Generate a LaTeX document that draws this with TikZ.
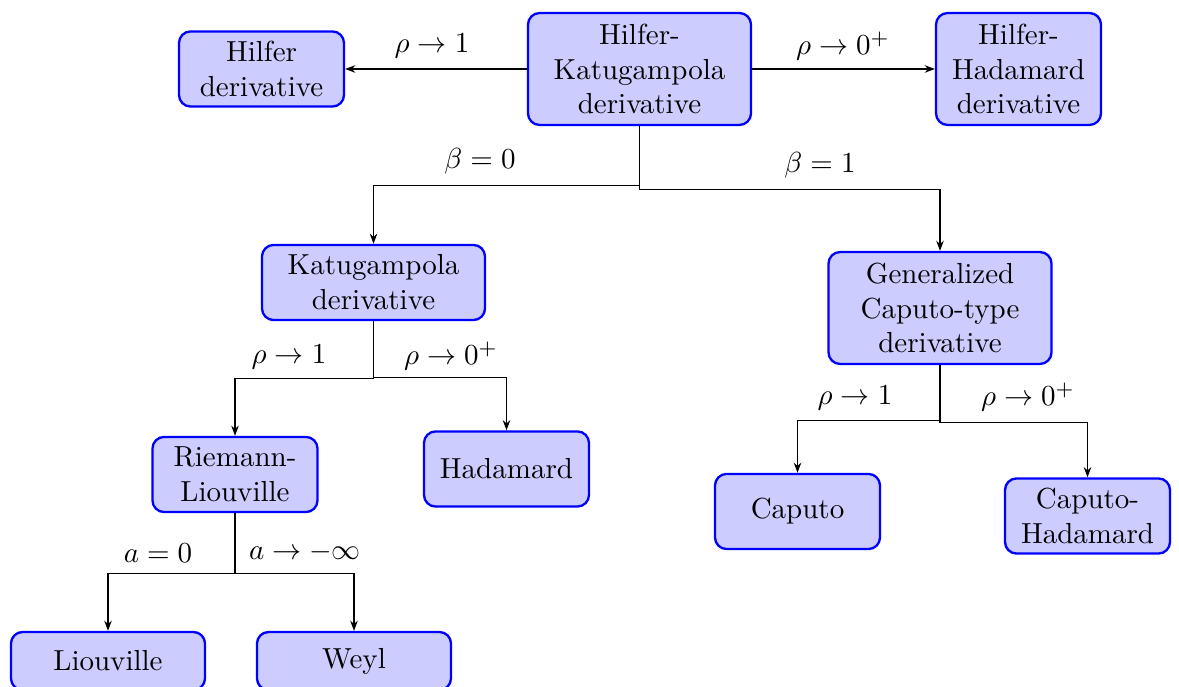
\documentclass[tikz,border=0pt]{standalone}
\usetikzlibrary{arrows.meta}
\begin{document}
\begin{tikzpicture}[x=0.3448pt,y=-0.3448pt,
  box/.style={draw=blue,fill=blue!20,thick,rounded corners=4pt,align=center,inner sep=2pt,minimum height=25.9pt},
  wA/.style={minimum width=56.9pt},
  wB/.style={minimum width=76.9pt},
  wC/.style={minimum width=66.9pt,minimum height=20pt},
  arr/.style={-{Stealth[length=3.5pt,width=2.6pt]},line width=0.4pt},
  lab/.style={inner sep=0pt}]
\useasboundingbox (0,0) rectangle (1179,687);
\node[box,wB,minimum height=38.6pt] (hk) at (639.5,69) {Hilfer-\\Katugampola\\derivative};
\node[box,wA] (hil) at (261.5,69) {Hilfer\\derivative};
\node[box,wA,minimum height=38.6pt] (hh) at (1018.5,69) {Hilfer-\\Hadamard\\derivative};
\node[box,wB] (kat) at (373.5,282.5) {Katugampola\\derivative};
\node[box,wB,minimum height=38.6pt] (gc) at (940,308) {Generalized\\Caputo-type\\derivative};
\node[box,wA] (rl) at (235,474.5) {Riemann-\\Liouville};
\node[box,wA] (had) at (506.5,469) {Hadamard};
\node[box,wA] (cap) at (797.5,511.5) {Caputo};
\node[box,wA] (ch) at (1087.5,516) {Caputo-\\Hadamard};
\node[box,wC] (lio) at (108,661) {Liouville};
\node[box,wC] (wey) at (354,661) {Weyl};

\draw[arr] (hk.west) -- (hil.east);
\draw[arr] (hk.east) -- (hh.west);
\draw[arr] (hk.south) -- ++(0,59) -| (kat.north);
\draw[arr] (hk.south) -- ++(0,63) -| (gc.north);
\draw[arr] (kat.south) -- ++(0,57) -| (rl.north);
\draw[arr] (kat.south) -- ++(0,56) -| (had.north);
\draw[arr] (gc.south) -- ++(0,55) -| (cap.north);
\draw[arr] (gc.south) -- ++(0,57) -| (ch.north);
\draw[arr] (rl.south) -- ++(0,60) -| (lio.north);
\draw[arr] (rl.south) -- ++(0,60) -| (wey.north);

\node[lab] (l1) at (432,46) {$\rho\to 1$};
\node[lab] (l2) at (843,46) {$\rho\to 0^+$};
\node[lab] (l3) at (480,161) {$\beta=0$};
\node[lab] (l4) at (820,165) {$\beta=1$};
\node[lab] (l5) at (289,357) {$\rho\to 1$};
\node[lab] (l6) at (451,356) {$\rho\to 0^+$};
\node[lab] (l7) at (855,398) {$\rho\to 1$};
\node[lab] (l8) at (1028,397) {$\rho\to 0^+$};
\node[lab] (l9) at (158,553) {$a=0$};
\node[lab] (l10) at (305,552) {$a\to-\infty$};
\end{tikzpicture}
\end{document}
